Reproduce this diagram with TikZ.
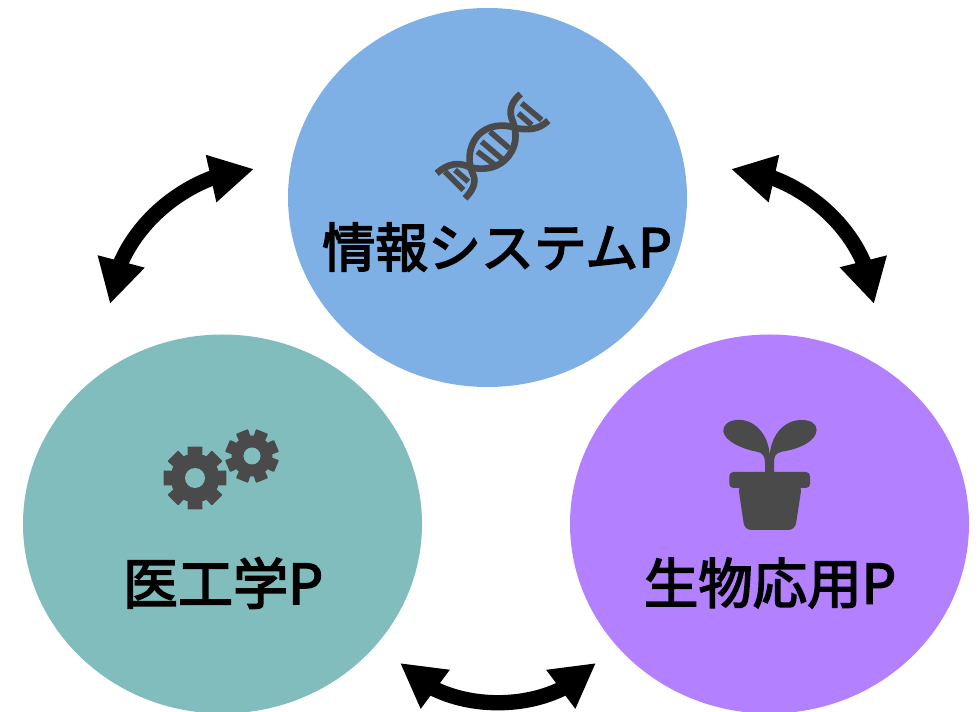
\documentclass[tikz,border=0pt]{standalone}
\usepackage{fontspec}
\usetikzlibrary{arrows.meta,bending,shapes.geometric}
\newfontfamily\cjkfont[FakeBold=3]{Noto Sans CJK JP}
\definecolor{blueC}{HTML}{7FB0E5}
\definecolor{tealC}{HTML}{81BDBD}
\definecolor{purpC}{HTML}{B380FF}
\definecolor{iconC}{HTML}{4A4A4A}
\tikzset{
  px/.style={x=0.75pt,y=-0.75pt},
  blob/.style={ellipse,minimum width=299.25pt,minimum height=284.25pt,inner sep=0pt,draw=none},
  lab/.style={font=\cjkfont\fontsize{#1}{44pt}\selectfont,text=black,inner sep=0pt,anchor=center},
  biarrow/.style={line width=11.5pt,draw=black,{Triangle[length=33pt,width=34pt,flex=1]}-{Triangle[length=33pt,width=34pt,flex=1]}},
  dnastrand/.style={draw=iconC,line width=5pt,line cap=butt,line join=round},
  dnarung/.style={draw=iconC,line width=4.2pt},
}
\begin{document}
\begin{tikzpicture}[px]
\useasboundingbox (0,0) rectangle (979,712);
\node[blob,fill=blueC] (top) at (487.5,197.5) {};
\node[blob,fill=tealC] (left) at (222.5,524) {};
\node[blob,fill=purpC] (right) at (769.5,524) {};
\node[lab=39.7pt] (topl) at (497,247) {情報システムP};
\node[lab=41.3pt] (leftl) at (223,583) {医工学P};
\node[lab=40.8pt] (rightl) at (770,583) {生物応用P};

\coordinate (a1) at (731,169);
\coordinate (a2) at (874,304);
\coordinate (b1) at (254,169);
\coordinate (b2) at (110,304);
\coordinate (c1) at (400,663);
\coordinate (c2) at (596,663);
\draw[biarrow] (a1) .. controls (795,172) and (868,228) .. (a2);
\draw[biarrow] (b1) .. controls (190,172) and (117,228) .. (b2);
\draw[biarrow] (c1) .. controls (445,716) and (551,716) .. (c2);

% DNA icon
\begin{scope}[shift={(420,80)},scale=1/3]
\draw[dnastrand] (385,122) .. controls (355,150) and (325,150) .. (290,145)
  .. controls (250,130) and (205,135) .. (175,165)
  .. controls (140,205) and (145,255) .. (160,285)
  .. controls (170,310) and (155,335) .. (135,355);
\draw[dnastrand] (302,42) .. controls (280,60) and (265,85) .. (275,115)
  .. controls (295,165) and (290,205) .. (255,240)
  .. controls (225,268) and (185,270) .. (150,262)
  .. controls (115,245) and (85,250) .. (50,280);
\foreach \xa/\ya/\xb/\yb in {210/155/268/205,185/185/250/240,172/215/225/255,305/70/365/120,295/100/335/135,75/275/130/330,105/270/145/305}{
  \draw[dnarung] (\xa,\ya) -- (\xb,\yb);
}
\end{scope}

% gears
\begin{scope}[shift={(195,478)}]
\fill[iconC,line join=round,draw=iconC,line width=1.6pt]
  \foreach \k in {0,...,7}{ (45*\k-16:22) -- (45*\k-12:31) -- (45*\k+12:31) -- (45*\k+16:22) -- cycle };
\fill[iconC] (0,0) circle[radius=24.5];
\fill[tealC] (0,0) circle[radius=10];
\end{scope}
\begin{scope}[shift={(252,456)}]
\fill[iconC,line join=round,draw=iconC,line width=1.6pt]
  \foreach \k in {0,...,7}{ (45*\k+6.5:18) -- (45*\k+10.5:26) -- (45*\k+34.5:26) -- (45*\k+38.5:18) -- cycle };
\fill[iconC] (0,0) circle[radius=20.5];
\fill[tealC] (0,0) circle[radius=8.5];
\end{scope}

% plant
\begin{scope}[shift={(710,410)},scale=1/3]
\fill[iconC] (179,135) .. controls (175,70) and (130,25) .. (80,30)
  .. controls (50,32) and (38,50) .. (40,65)
  .. controls (45,95) and (100,118) .. (140,125)
  .. controls (160,128) and (165,140) .. (165,160)
  -- (165,190) -- (192,190) -- (192,160)
  .. controls (192,140) and (195,130) .. (215,125)
  .. controls (265,118) and (318,95) .. (320,60)
  .. controls (320,40) and (300,30) .. (275,30)
  .. controls (225,30) and (185,70) .. (179,135) -- cycle;
\fill[iconC,rounded corners=3pt] (58,186) rectangle (300,234);
\fill[iconC,rounded corners=5pt] (84,225) -- (104,360) -- (255,360) -- (276,225) -- cycle;
\end{scope}
\end{tikzpicture}
\end{document}
